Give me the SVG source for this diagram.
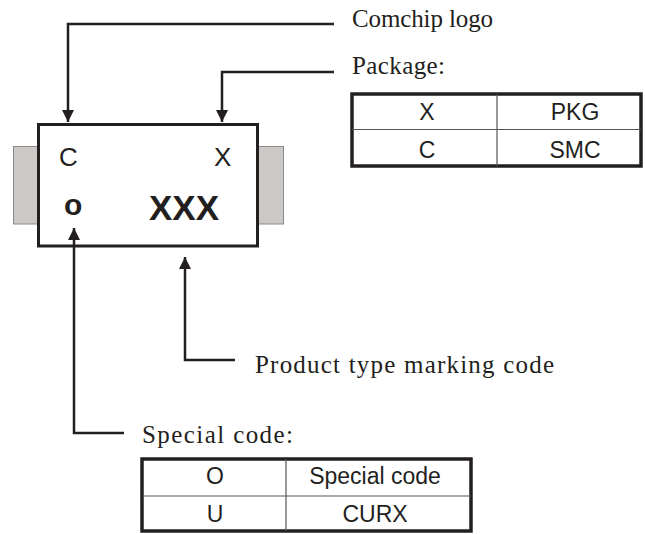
<svg xmlns="http://www.w3.org/2000/svg" width="645" height="534" viewBox="0 0 645 534">
<style>
.ln{fill:none;stroke:#231f20;stroke-width:2.5;}
.lbl{font-family:"Liberation Serif",serif;font-size:25px;fill:#231f20;}
.chip{font-family:"Liberation Sans",Arial,sans-serif;fill:#231f20;}
.tb{font-family:"Liberation Sans",Arial,sans-serif;font-size:23px;fill:#231f20;text-anchor:middle;}
.tout{fill:#fff;stroke:#231f20;stroke-width:3.5;}
.tin{stroke:#555;stroke-width:1.2;}
.tab{fill:#ccc8c5;stroke:#8c8a88;stroke-width:1;}
</style>
<defs>
<marker id="ah" markerUnits="userSpaceOnUse" markerWidth="12" markerHeight="12" refX="12" refY="6" orient="auto">
<path d="M0,0 L12,6 L0,12 z" fill="#231f20"/>
</marker>
</defs>
<rect width="645" height="534" fill="#fff"/>
<g id="chip">
<rect class="tab" x="13.5" y="146.5" width="24" height="77.5"/>
<rect class="tab" x="257.5" y="146.5" width="26" height="77.5"/>
<rect x="38.5" y="124.5" width="219" height="121.5" fill="#fff" stroke="#231f20" stroke-width="3"/>
<text class="chip" x="59" y="166" font-size="26">C</text>
<text class="chip" x="214" y="166" font-size="26">X</text>
<text class="chip" x="64" y="215" font-size="30" font-weight="bold">o</text>
<text class="chip" x="149" y="220" font-size="35" font-weight="bold">XXX</text>
</g>
<g id="connectors">
<path class="ln" d="M334,24 H68 V122" marker-end="url(#ah)"/>
<path class="ln" d="M334,72 H222 V122" marker-end="url(#ah)"/>
<path class="ln" d="M124,433 H74 V228" marker-end="url(#ah)"/>
<path class="ln" d="M235,360 H185 V257" marker-end="url(#ah)"/>
</g>
<g id="label-logo">
<text class="lbl" x="352" y="27" textLength="141" lengthAdjust="spacing">Comchip logo</text>
</g>
<g id="label-package">
<text class="lbl" x="352" y="74" textLength="93" lengthAdjust="spacing">Package:</text>
</g>
<g id="label-product">
<text class="lbl" x="255" y="373" textLength="299" lengthAdjust="spacing">Product type marking code</text>
</g>
<g id="label-special">
<text class="lbl" x="142" y="443" textLength="151" lengthAdjust="spacing">Special code:</text>
</g>
<g id="table-package">
<rect class="tout" x="352" y="94" width="289" height="72"/>
<line class="tin" x1="352" y1="129.5" x2="641" y2="129.5"/>
<line class="tin" x1="497" y1="94" x2="497" y2="166"/>
<text class="tb" x="427" y="120">X</text>
<text class="tb" x="575" y="120">PKG</text>
<text class="tb" x="427" y="158">C</text>
<text class="tb" x="575" y="158">SMC</text>
</g>
<g id="table-special">
<rect class="tout" x="142" y="459" width="329" height="72"/>
<line class="tin" x1="142" y1="496" x2="471" y2="496"/>
<line class="tin" x1="286" y1="459" x2="286" y2="531"/>
<text class="tb" x="215" y="484">O</text>
<text class="tb" x="375" y="484">Special code</text>
<text class="tb" x="215" y="522">U</text>
<text class="tb" x="375" y="522">CURX</text>
</g>
</svg>
